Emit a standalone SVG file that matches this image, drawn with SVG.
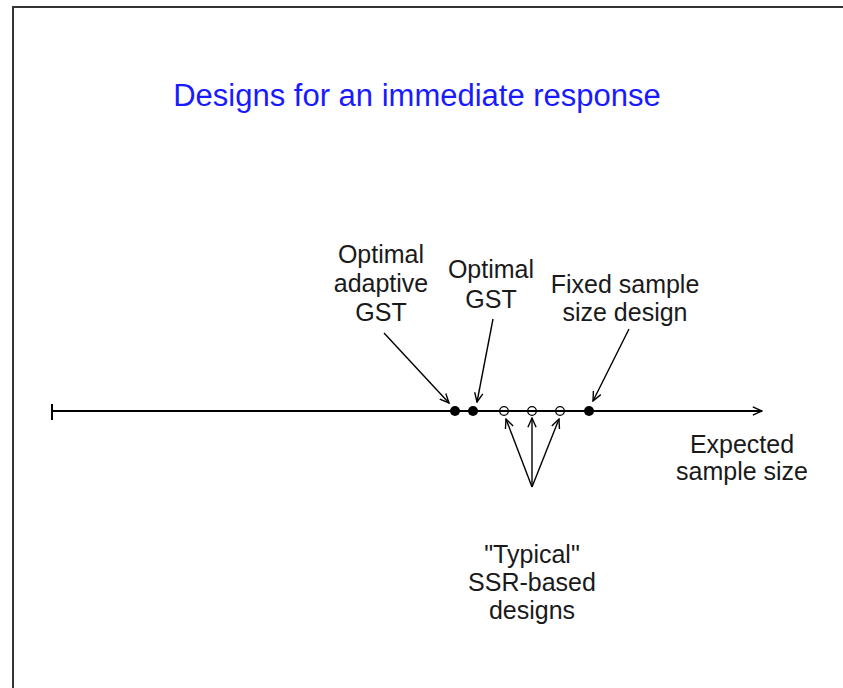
<svg xmlns="http://www.w3.org/2000/svg" width="843" height="688" viewBox="0 0 843 688">
<defs>
<marker id="v" viewBox="0 0 12 12" refX="11" refY="6" markerWidth="11" markerHeight="11" markerUnits="userSpaceOnUse" orient="auto">
<path d="M1,1.5 L11,6 L1,10.5" fill="none" stroke="#000" stroke-width="1.5"/>
</marker>
</defs>
<style>
.lbl{font-family:"Liberation Sans",Arial,sans-serif;font-size:25px;fill:#1a1a1a;text-anchor:middle}
.ttl{font-family:"Liberation Sans",Arial,sans-serif;font-size:31px;fill:#1a1aff;text-anchor:middle}
.con{stroke:#000;stroke-width:1.4;fill:none;marker-end:url(#v)}
.fd{fill:#000}
.od{fill:none;stroke:#000;stroke-width:1.3}
</style>
<rect width="843" height="688" fill="#fff"/>
<path d="M13,688 L13,7 L843,7" fill="none" stroke="#333" stroke-width="2"/>
<text class="ttl" x="417" y="106">Designs for an immediate response</text>
<g id="axis">
<line x1="51" y1="411" x2="762" y2="411" stroke="#000" stroke-width="1.8" marker-end="url(#v)"/>
<line x1="52" y1="404" x2="52" y2="420" stroke="#000" stroke-width="2"/>
</g>
<g id="connectors">
<line class="con" x1="384" y1="333" x2="449" y2="403"/>
<line class="con" x1="493" y1="319" x2="477" y2="402"/>
<line class="con" x1="629" y1="329" x2="593" y2="401"/>
<line class="con" x1="532" y1="487" x2="506" y2="419"/>
<line class="con" x1="532" y1="487" x2="532" y2="418"/>
<line class="con" x1="532" y1="487" x2="559" y2="419"/>
</g>
<g id="adaptive-gst"><circle class="fd" cx="455" cy="411" r="5"/><text class="lbl" x="381" y="263">Optimal</text><text class="lbl" x="381" y="292">adaptive</text><text class="lbl" x="381" y="321">GST</text></g>
<g id="optimal-gst"><circle class="fd" cx="473" cy="411" r="5"/><text class="lbl" x="491" y="278">Optimal</text><text class="lbl" x="491" y="308">GST</text></g>
<g id="fixed"><circle class="fd" cx="589" cy="411" r="5"/><text class="lbl" x="625" y="293">Fixed sample</text><text class="lbl" x="625" y="321">size design</text></g>
<g id="ssr"><circle class="od" cx="504" cy="411" r="4.3"/><circle class="od" cx="532" cy="411" r="4.3"/><circle class="od" cx="560" cy="411" r="4.3"/><text class="lbl" x="532" y="563">"Typical"</text><text class="lbl" x="532" y="591">SSR-based</text><text class="lbl" x="532" y="619">designs</text></g>
<g id="axis-label"><text class="lbl" x="742" y="453">Expected</text><text class="lbl" x="742" y="480">sample size</text></g>
</svg>
